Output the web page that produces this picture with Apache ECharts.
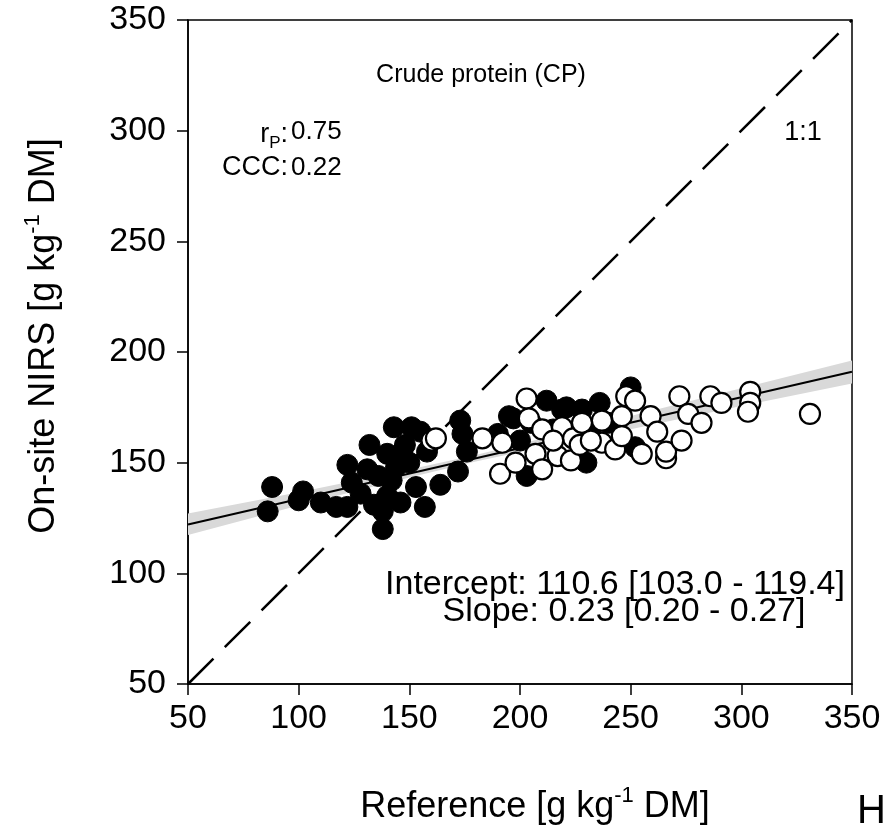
<!DOCTYPE html>
<html>
<head>
<meta charset="utf-8">
<script src="https://cdn.jsdelivr.net/npm/echarts@6/dist/echarts.min.js"></script>
<style>html,body{margin:0;padding:0;background:#fff;}#c{width:887px;height:832px;}</style>
</head>
<body>
<div id="c"></div>
<script>
// ---- data ----
const filledPts = [
  [86,128],[88,139],[100,133],[102,137],[110,132],[117,130],[122,149],[122,130],[124,141],
  [128,136],[131,147],[132,158],[134,131],[136,144],[138,120],[138,128],[140,154],[140,135],
  [142,142],[143,166],[144,148],[146,132],[147,153],[148,158],[150,150],[151,166],[153,139],
  [155,164],[157,130],[158,155],[164,140],[172,146],[173,169],[174,163],[176,155],[190,163],
  [195,171],[197,170],[203,144],[212,178],[219,174],[221,175],[228,174],[236,177],[250,184],
  [252,157],[200,160],[205,168],[215,165],[232,165],[240,168],[230,150]
];
const openPts = [
  [160,160],[162,161],[183,161],[192,159],[191,145],[198,150],[203,179],[204,170],[207,154],
  [210,147],[210,165],[217,153],[219,166],[223,151],[224,161],[227,158],[228,168],[237,169],
  [237,159],[243,156],[246,171],[246,162],[248,180],[252,178],[255,154],[259,171],[262,164],
  [266,152],[266,155],[272,180],[273,160],[276,172],[282,168],[286,180],[291,177],[304,182],
  [304,177],[303,173],[331,172],[215,160],[232,160]
];
const fitLine = [[50,122.1],[350,191.1]];
const oneToOne = [[50,50],[350,350]];
const bandX = [50,100,150,180,200,250,300,350];
const bandLow = [117.3,130.6,143.3,150.5,154.8,165.1,175.6,185.8];
const bandHigh = [127.0,136.6,146.9,153.5,158.4,171.1,183.6,196.2];
const ticks = [50,100,150,200,250,300,350];

const FONT = "'Liberation Sans', Arial, sans-serif";
const chart = echarts.init(document.getElementById('c'));

const bandPoly = bandX.map((x,i)=>[x,bandLow[i]]).concat(bandX.map((x,i)=>[x,bandHigh[i]]).reverse());

const axisCommon = {
  type: 'value', min: ticks[0], max: ticks[ticks.length-1], interval: 50,
  axisLine: {show: true, onZero: false, lineStyle: {color: '#000', width: 1.5}},
  axisTick: {show: true, inside: false, length: 11, lineStyle: {color: '#000', width: 1.5}},
  splitLine: {show: false},
  axisLabel: {color: '#000', fontSize: 34, fontFamily: FONT}
};

chart.setOption({
  animation: false,
  backgroundColor: '#fff',
  grid: {left: 188, top: 20, width: 664, height: 664, show: true, borderColor: '#000', borderWidth: 1.5, backgroundColor: 'transparent'},
  xAxis: Object.assign({}, axisCommon, {axisLabel: Object.assign({}, axisCommon.axisLabel, {margin: 18})}),
  yAxis: Object.assign({}, axisCommon, {axisLabel: Object.assign({}, axisCommon.axisLabel, {margin: 22})}),
  series: [
    {
      type: 'custom', z: 1, silent: true,
      renderItem: function(params, api) {
        const pts = bandPoly.map(p => api.coord(p));
        return {type: 'polygon', shape: {points: pts}, style: {fill: '#d9d9d9', stroke: null}};
      },
      data: [0]
    },
    {type: 'line', z: 2, data: fitLine, symbol: 'none', lineStyle: {color: '#000', width: 2}},
    {type: 'line', z: 2, data: oneToOne, symbol: 'none', lineStyle: {color: '#000', width: 2.5, type: [36, 16]}},
    {type: 'scatter', z: 3, data: filledPts, symbol: 'circle', symbolSize: 21,
     itemStyle: {color: '#000', borderColor: '#000', borderWidth: 1, opacity: 1}},
    {type: 'scatter', z: 4, data: openPts, symbol: 'circle', symbolSize: 20,
     itemStyle: {color: '#fff', borderColor: '#000', borderWidth: 2.2, opacity: 1}}
  ],
  graphic: [
    {type: 'text', x: 481, y: 75, style: {text: 'Crude protein (CP)', font: '25px ' + FONT, fill: '#000', align: 'center', verticalAlign: 'middle'}},
    {type: 'text', x: 288, y: 132, style: {text: '{r|r}{s|P}{r|:}', fill: '#000', align: 'right', verticalAlign: 'middle',
      rich: {r: {fontSize: 27, fontFamily: FONT, lineHeight: 32, verticalAlign: 'bottom'}, s: {fontSize: 17, fontFamily: FONT, lineHeight: 32, verticalAlign: 'bottom', padding:[0,0,-4,0]}}}},
    {type: 'text', x: 291, y: 132, style: {text: '0.75', font: '26px ' + FONT, fill: '#000', align: 'left', verticalAlign: 'middle'}},
    {type: 'text', x: 288, y: 168, style: {text: 'CCC:', font: '27px ' + FONT, fill: '#000', align: 'right', verticalAlign: 'middle'}},
    {type: 'text', x: 291, y: 168, style: {text: '0.22', font: '26px ' + FONT, fill: '#000', align: 'left', verticalAlign: 'middle'}},
    {type: 'text', x: 803, y: 133, style: {text: '1:1', font: '27px ' + FONT, fill: '#000', align: 'center', verticalAlign: 'middle'}},
    {type: 'text', x: 615, y: 585, style: {text: 'Intercept: 110.6 [103.0 - 119.4]', font: '34px ' + FONT, fill: '#000', align: 'center', verticalAlign: 'middle'}},
    {type: 'text', x: 624, y: 612, style: {text: 'Slope: 0.23 [0.20 - 0.27]', font: '34px ' + FONT, fill: '#000', align: 'center', verticalAlign: 'middle'}},
    {type: 'text', x: 535, y: 805, style: {text: '{a|Reference [g kg}{s|-1}{a| DM]}', fill: '#000', align: 'center', verticalAlign: 'middle',
      rich: {a: {fontSize: 36, fontFamily: FONT, lineHeight: 40, verticalAlign: 'bottom'}, s: {fontSize: 22, fontFamily: FONT, lineHeight: 40, verticalAlign: 'top'}}}},
    {type: 'text', x: 42, y: 336, rotation: Math.PI/2, style: {text: '{a|On-site NIRS [g kg}{s|-1}{a| DM]}', fill: '#000', align: 'center', verticalAlign: 'middle',
      rich: {a: {fontSize: 36, fontFamily: FONT, lineHeight: 40, verticalAlign: 'bottom'}, s: {fontSize: 22, fontFamily: FONT, lineHeight: 40, verticalAlign: 'top'}}}},
    {type: 'text', x: 857, y: 812, style: {text: 'H', font: '40px ' + FONT, fill: '#000', align: 'left', verticalAlign: 'middle'}}
  ]
});
</script>
</body>
</html>
